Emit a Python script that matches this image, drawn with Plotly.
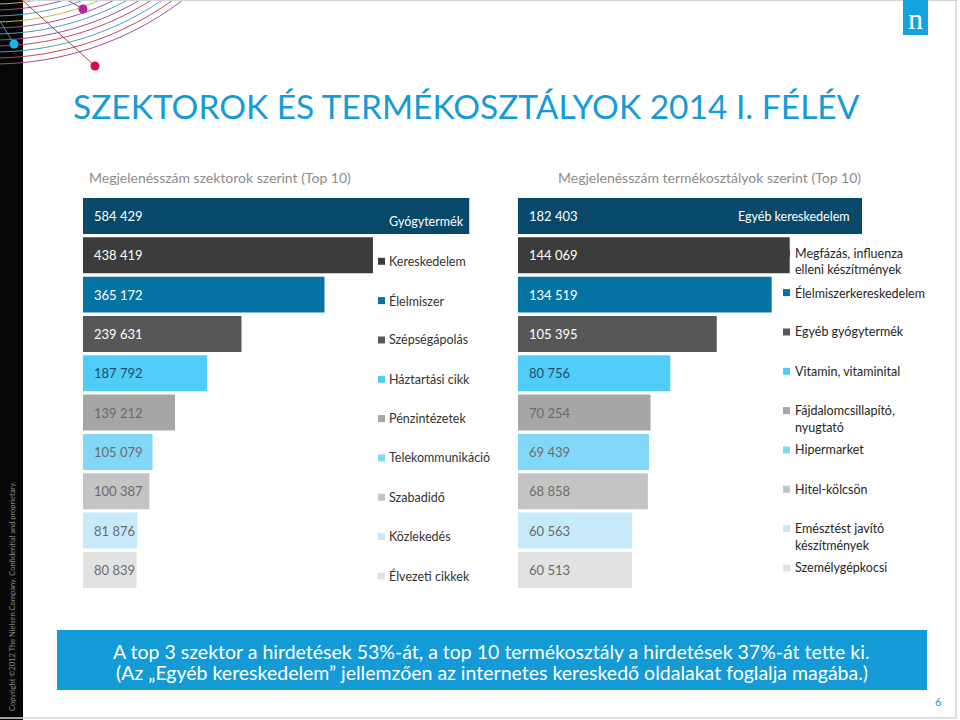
import math
import plotly.graph_objects as go

# ---------------- data ----------------
sector_names = ["Gyógytermék", "Kereskedelem", "Élelmiszer", "Szépségápolás", "Háztartási cikk",
                "Pénzintézetek", "Telekommunikáció", "Szabadidő", "Közlekedés", "Élvezeti cikkek"]
sector_values = [584429, 438419, 365172, 239631, 187792, 139212, 105079, 100387, 81876, 80839]

product_names = ["Egyéb kereskedelem", "Megfázás, influenza elleni készítmények", "Élelmiszerkereskedelem",
                 "Egyéb gyógytermék", "Vitamin, vitaminital", "Fájdalomcsillapító, nyugtató", "Hipermarket",
                 "Hitel-kölcsön", "Emésztést javító készítmények", "Személygépkocsi"]
product_lines = [["Egyéb kereskedelem"], ["Megfázás, influenza", "elleni készítmények"], ["Élelmiszerkereskedelem"],
                 ["Egyéb gyógytermék"], ["Vitamin, vitaminital"], ["Fájdalomcsillapító,", "nyugtató"], ["Hipermarket"],
                 ["Hitel-kölcsön"], ["Emésztést javító", "készítmények"], ["Személygépkocsi"]]
product_values = [182403, 144069, 134519, 105395, 80756, 70254, 69439, 68858, 60563, 60513]

bar_colors = ["#08496a", "#3c3c3c", "#0673a3", "#575757", "#50cdf6",
              "#a6a6a6", "#80d7f8", "#c4c4c4", "#c6eafa", "#e2e2e2"]
value_text_colors = ["#ffffff"] * 4 + ["#1d4f6b"] + ["#6b6b6b"] * 5

title_text = "SZEKTOROK ÉS TERMÉKOSZTÁLYOK 2014 I. FÉLÉV"
subtitle_left = "Megjelenésszám szektorok szerint (Top 10)"
subtitle_right = "Megjelenésszám termékosztályok szerint (Top 10)"
note_lines = ["A top 3 szektor a hirdetések 53%-át, a top 10 termékosztály a hirdetések 37%-át tette ki.",
              "(Az „Egyéb kereskedelem” jellemzően az internetes kereskedő oldalakat foglalja magába.)"]
copyright_text = "Copyright ©2012 The Nielsen Company. Confidential and proprietary."

# ---------------- helpers ----------------
W, H = 960, 720
FONT = "Lato, Carlito, Calibri, sans-serif"


def px(x):
    return x / W


def py(y):
    return 1 - y / H


def fmt(v):
    return f"{v:,}".replace(",", " ")


ROW_TOP, ROW_PITCH = 196.3, 39.33


def row_center(i):
    return ROW_TOP + ROW_PITCH * (i + 0.5)


fig = go.Figure()

fig.add_trace(go.Bar(x=sector_values, y=sector_names, orientation="h",
                     marker=dict(color=bar_colors, line=dict(width=0)),
                     xaxis="x", yaxis="y", hoverinfo="x+y"))
fig.add_trace(go.Bar(x=product_values, y=product_names, orientation="h",
                     marker=dict(color=bar_colors, line=dict(width=0)),
                     xaxis="x2", yaxis="y2", hoverinfo="x+y"))

ydom = [py(ROW_TOP + ROW_PITCH * 10), py(ROW_TOP)]

shapes = []
annotations = []

# sidebar
shapes.append(dict(type="rect", xref="paper", yref="paper", x0=px(0), x1=px(23), y0=py(720), y1=py(0),
                   fillcolor="#060606", line=dict(width=0), layer="above"))

# decorative arcs
arc_colors = ["#c8b84a", "#9a4f9a", "#4ba0bb", "#c8b84a", "#9a4f9a", "#4ba0bb",
              "#9a4f9a", "#b84a5a", "#4ba0bb", "#b84a5a", "#9a4f9a"]
cx, cy = -7.0, -250.0
for k, r in enumerate(range(254, 320, 6)):
    tmax = math.acos(min(1.0, (0 - cy - 3) / r))
    tmin = -0.05
    pts = []
    n = 40
    for j in range(n + 1):
        t = tmin + (tmax - tmin) * j / n
        x = cx + r * math.sin(t)
        y = cy + r * math.cos(t)
        pts.append(f"{px(x):.5f},{py(y):.5f}")
    path = "M " + " L ".join(pts)
    shapes.append(dict(type="path", xref="paper", yref="paper", path=path,
                       line=dict(color=arc_colors[k % len(arc_colors)], width=1), layer="above"))

for (x0, y0, x1, y1, c) in [(20, -2, 95, 66, "#a04050"), (64, -2, 83, 9, "#a03090"), (0, 21, 14, 44, "#3a9ab8")]:
    shapes.append(dict(type="line", xref="paper", yref="paper", x0=px(x0), y0=py(y0), x1=px(x1), y1=py(y1),
                       line=dict(color=c, width=1), layer="above"))
for (x, y, c) in [(83, 9, "#b5249f"), (14, 44, "#1ab4ea"), (95, 66, "#d01040")]:
    shapes.append(dict(type="circle", xref="paper", yref="paper", x0=px(x - 4.5), x1=px(x + 4.5),
                       y0=py(y + 4.5), y1=py(y - 4.5), fillcolor=c, line=dict(width=0), layer="above"))

# border lines
shapes.append(dict(type="line", xref="paper", yref="paper", x0=px(23), x1=px(957), y0=py(0.5), y1=py(0.5),
                   line=dict(color="#d4d4d4", width=1)))
shapes.append(dict(type="line", xref="paper", yref="paper", x0=px(956), x1=px(956), y0=py(0), y1=py(718),
                   line=dict(color="#d4d4d4", width=1.5)))
shapes.append(dict(type="line", xref="paper", yref="paper", x0=px(0), x1=px(957), y0=py(718), y1=py(718),
                   line=dict(color="#d4d4d4", width=1.5)))

# logo
shapes.append(dict(type="rect", xref="paper", yref="paper", x0=px(903), x1=px(928), y0=py(35), y1=py(0),
                   fillcolor="#14a3e0", line=dict(width=0)))
annotations.append(dict(xref="paper", yref="paper", x=px(915.5), y=py(18), text="n", showarrow=False,
                        xanchor="center", yanchor="middle",
                        font=dict(family="Liberation Serif, DejaVu Serif, serif", size=30, color="#ffffff")))

# copyright
annotations.append(dict(xref="paper", yref="paper", x=px(12), y=py(596), text=copyright_text, showarrow=False,
                        textangle=-90, xanchor="center", yanchor="middle",
                        font=dict(family=FONT, size=7.5, color="#8a8a8a")))

# title & subtitles
annotations.append(dict(xref="paper", yref="paper", x=px(71), y=py(106), text=title_text, showarrow=False,
                        xanchor="left", yanchor="middle",
                        font=dict(family=FONT, size=33.5, color="#159bd7")))
annotations.append(dict(xref="paper", yref="paper", x=px(219.5), y=py(177), text=subtitle_left, showarrow=False,
                        xanchor="center", yanchor="middle", font=dict(family=FONT, size=14, color="#8c8c8c")))
annotations.append(dict(xref="paper", yref="paper", x=px(709), y=py(177), text=subtitle_right, showarrow=False,
                        xanchor="center", yanchor="middle", font=dict(family=FONT, size=14, color="#8c8c8c")))

# value labels (data-anchored)
for i, (name, v) in enumerate(zip(sector_names, sector_values)):
    annotations.append(dict(xref="x", yref="y", x=0, y=name, text=fmt(v), showarrow=False, xanchor="left",
                            yanchor="middle", xshift=9, font=dict(family=FONT, size=13, color=value_text_colors[i])))
for i, (name, v) in enumerate(zip(product_names, product_values)):
    annotations.append(dict(xref="x2", yref="y2", x=0, y=name, text=fmt(v), showarrow=False, xanchor="left",
                            yanchor="middle", xshift=9, font=dict(family=FONT, size=13, color=value_text_colors[i])))

# left legend
for i, name in enumerate(sector_names):
    yc = row_center(i) + 6
    if i > 0:
        shapes.append(dict(type="rect", xref="paper", yref="paper", x0=px(378), x1=px(385),
                           y0=py(yc + 3.5), y1=py(yc - 3.5), fillcolor=bar_colors[i], line=dict(width=0)))
    annotations.append(dict(xref="paper", yref="paper", x=px(387), y=py(yc), text=name, showarrow=False,
                            xanchor="left", yanchor="middle",
                            font=dict(family=FONT, size=12.5, color="#ffffff" if i == 0 else "#333333")))

# right legend
for i, lines in enumerate(product_lines):
    if i == 0:
        annotations.append(dict(xref="paper", yref="paper", x=px(852), y=py(row_center(0) + 1), text=lines[0],
                                showarrow=False, xanchor="right", yanchor="middle",
                                font=dict(family=FONT, size=12.5, color="#ffffff")))
        continue
    yc = row_center(i) - 2
    shapes.append(dict(type="rect", xref="paper", yref="paper", x0=px(783), x1=px(790),
                       y0=py(yc + 3.5), y1=py(yc - 3.5), fillcolor=bar_colors[i], line=dict(width=0),
                       layer="below"))
    for j, line in enumerate(lines):
        annotations.append(dict(xref="paper", yref="paper", x=px(793), y=py(yc + 16.5 * j), text=line,
                                showarrow=False, xanchor="left", yanchor="middle",
                                font=dict(family=FONT, size=12.5, color="#262626")))

# note box
shapes.append(dict(type="rect", xref="paper", yref="paper", x0=px(57), x1=px(927), y0=py(690), y1=py(630),
                   fillcolor="#139ad7", line=dict(width=0)))
for j, line in enumerate(note_lines):
    annotations.append(dict(xref="paper", yref="paper", x=px(492), y=py(651 + 21.5 * j), text=line,
                            showarrow=False, xanchor="center", yanchor="middle",
                            font=dict(family=FONT, size=19.5, color="#ffffff")))

annotations.append(dict(xref="paper", yref="paper", x=px(938), y=py(701), text="6", showarrow=False,
                        xanchor="center", yanchor="middle", font=dict(family=FONT, size=11, color="#159bd7")))

fig.update_layout(
    width=W, height=H,
    margin=dict(l=0, r=0, t=0, b=0),
    paper_bgcolor="#ffffff", plot_bgcolor="rgba(0,0,0,0)",
    showlegend=False, bargap=0.085,
    font=dict(family=FONT),
    xaxis=dict(domain=[px(83), px(469.5)], range=[0, sector_values[0]], visible=False, fixedrange=True),
    yaxis=dict(domain=ydom, type="category", autorange="reversed", visible=False, fixedrange=True),
    xaxis2=dict(domain=[px(518), px(862)], range=[0, product_values[0]], visible=False, anchor="y2",
                fixedrange=True),
    yaxis2=dict(domain=ydom, type="category", autorange="reversed", visible=False, anchor="x2",
                fixedrange=True),
    shapes=shapes, annotations=annotations,
)

fig.write_html("out.html", config={"displayModeBar": False},
               post_script="document.body.style.margin='0';document.body.style.overflow='hidden';")
